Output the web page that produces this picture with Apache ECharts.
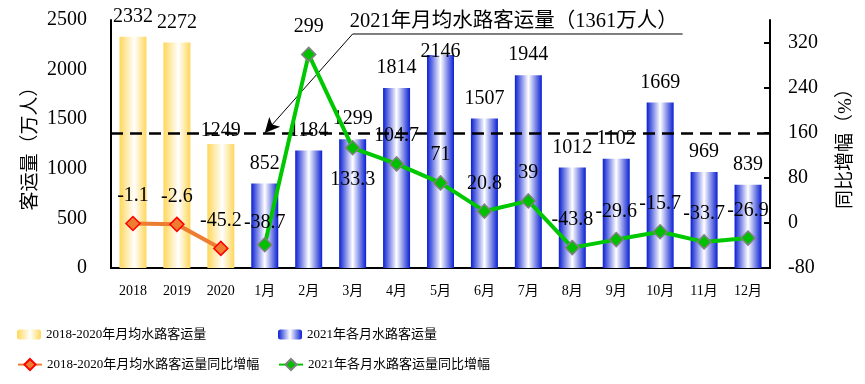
<!DOCTYPE html>
<html>
<head>
<meta charset="utf-8">
<script src="https://cdn.jsdelivr.net/npm/echarts@6/dist/echarts.min.js"></script>
<style>html,body{margin:0;padding:0;background:#fff;}#c{width:865px;height:384px;}</style>
</head>
<body>
<div id="c"></div>
<script>
const categories = ['2018','2019','2020','1月','2月','3月','4月','5月','6月','7月','8月','9月','10月','11月','12月'];
const yearlyAvg = [2332, 2272, 1249];
const monthly2021 = [852, 1184, 1299, 1814, 2146, 1507, 1944, 1012, 1102, 1669, 969, 839];
const yearlyGrowth = [-1.1, -2.6, -45.2];
const monthlyGrowth = [-38.7, 299, 133.3, 104.7, 71, 20.8, 39, -43.8, -29.6, -15.7, -33.7, -26.9];
const avg2021 = 1361;
const calloutText = '2021年月均水路客运量（1361万人）';
const calloutAnchor = ['3月', 2359];
const seriesNames = ['2018-2020年月均水路客运量','2021年各月水路客运量','2018-2020年月均水路客运量同比增幅','2021年各月水路客运量同比增幅'];
const leftTicks = {min: 0, max: 2500, interval: 500};
const rightTicks = {min: -80, max: 360, interval: 80};

const FONT = "'Liberation Serif','Noto Sans CJK SC',serif";
const nY = yearlyAvg.length;
const pad = (arr, before, after) => Array(before).fill('-').concat(arr, Array(after).fill('-'));

const yellowGrad = new echarts.graphic.LinearGradient(0,0,1,0,[
  {offset:0,color:'#FFD75A'},{offset:0.55,color:'#FFFFFF'},{offset:1,color:'#FFD75A'}]);
const blueGrad = new echarts.graphic.LinearGradient(0,0,1,0,[
  {offset:0,color:'#0A1FD2'},{offset:0.5,color:'#FFFFFF'},{offset:1,color:'#0A1FD2'}]);

const barLabelDist = {'2020': 3, '5月': -7};
const yearlyBarData = pad(yearlyAvg, 0, monthly2021.length).map((v,i)=>{
  const d = barLabelDist[categories[i]];
  return d === undefined ? v : {value:v, label:{distance:d}};
});
const monthBarData = pad(monthly2021, nY, 0).map((v,i)=>{
  const d = barLabelDist[categories[i]];
  return d === undefined ? v : {value:v, label:{distance:d}};
});
const monthLineData = pad(monthlyGrowth, nY, 0).map((v,i)=>{
  if (categories[i] === '3月') return {value:v, label:{position:'bottom', distance:14}};
  if (categories[i] === '1月') return {value:v, label:{distance:4}};
  return v;
});

const chart = echarts.init(document.getElementById('c'), null, {renderer:'canvas'});
const labelStyle = {fontFamily: FONT, fontSize: 20, color: '#000'};
const legendText = {fontFamily:FONT, fontSize:13, color:'#000'};

chart.setOption({
  animation: false,
  textStyle: {fontFamily: FONT},
  grid: {left: 111, right: 95, top: 20, bottom: 116},
  legend: [
    {data:[seriesNames[0]], left:17, top:328, padding:0, itemWidth:24, itemHeight:10, textStyle:legendText},
    {data:[seriesNames[1]], left:278, top:328, padding:0, itemWidth:24, itemHeight:10, textStyle:legendText},
    {data:[seriesNames[2]], left:17, top:358, padding:0, itemWidth:24, itemHeight:14, textStyle:legendText},
    {data:[seriesNames[3]], left:278, top:358, padding:0, itemWidth:24, itemHeight:14, textStyle:legendText}
  ],
  xAxis: {
    type:'category', data: categories,
    axisLine:{lineStyle:{color:'#000', width:2}},
    axisTick:{inside:true, length:5, interval:0, lineStyle:{color:'#000', width:2}},
    axisLabel:{interval:0, margin:16, fontFamily:FONT, fontSize:14, color:'#000'}
  },
  yAxis: [
    {type:'value', min:leftTicks.min, max:leftTicks.max, interval:leftTicks.interval,
     name:'客运量（万人）', nameLocation:'middle', nameGap:70, nameRotate:90, nameMoveOverlap:false,
     nameTextStyle:{fontFamily:FONT, fontSize:19, color:'#000'},
     axisLine:{show:true, lineStyle:{color:'#000', width:2}},
     axisTick:{show:false}, splitLine:{show:false},
     axisLabel:{margin:24, fontFamily:FONT, fontSize:20, color:'#000', formatter: v => String(v)}},
    {type:'value', min:rightTicks.min, max:rightTicks.max, interval:rightTicks.interval, position:'right',
     name:'同比增幅（%）', nameLocation:'middle', nameGap:67, nameRotate:90, nameMoveOverlap:false,
     nameTextStyle:{fontFamily:FONT, fontSize:19, color:'#000'},
     axisLine:{show:true, lineStyle:{color:'#000', width:2}},
     axisTick:{show:true, inside:true, length:6, lineStyle:{color:'#000', width:2}},
     splitLine:{show:false},
     axisLabel:{margin:18, showMaxLabel:false, fontFamily:FONT, fontSize:20, color:'#000', formatter: v => String(v)}}
  ],
  series: [
    {name:seriesNames[0], type:'bar', data:yearlyBarData, barWidth:27, barGap:'-100%',
     itemStyle:{color:yellowGrad},
     label:{show:true, position:'top', distance:10, ...labelStyle}, z:2},
    {name:seriesNames[1], type:'bar', data:monthBarData, barWidth:27, barGap:'-100%',
     itemStyle:{color:blueGrad},
     label:{show:true, position:'top', distance:10, ...labelStyle}, z:2,
     markLine:{silent:true, symbol:['none','none'], label:{show:false}, animation:false,
       data:[
         {yAxis:avg2021, lineStyle:{type:[12,7], width:2.5, color:'#000'}},
         [{coord:calloutAnchor, symbol:'none', lineStyle:{type:'solid', width:1, color:'#000'}},
          {coord:['1月', avg2021], symbol:'arrow', symbolSize:[11,15]}]
       ]}},
    {name:seriesNames[2], type:'line', yAxisIndex:1, data:pad(yearlyGrowth,0,monthlyGrowth.length),
     symbol:'diamond', symbolSize:14,
     lineStyle:{color:'#ED7D31', width:4},
     itemStyle:{color:'#ED7D31', borderColor:'#FF0000', borderWidth:1.5},
     label:{show:true, position:'top', distance:10, ...labelStyle}, z:5},
    {name:seriesNames[3], type:'line', yAxisIndex:1, data:monthLineData,
     symbol:'diamond', symbolSize:14,
     lineStyle:{color:'#00C800', width:4},
     itemStyle:{color:'#00C000', borderColor:'#808080', borderWidth:1.5},
     label:{show:true, position:'top', distance:10, ...labelStyle}, z:5}
  ]
});

const p = chart.convertToPixel({xAxisIndex:0, yAxisIndex:0}, calloutAnchor);
chart.setOption({
  graphic: [
    {type:'line', shape:{x1:p[0], y1:p[1], x2:p[0]+330, y2:p[1]}, style:{stroke:'#000', lineWidth:1}, silent:true},
    {type:'text', left:p[0]-3, top:p[1]-23, style:{text:calloutText, font:"20.5px " + FONT, fill:'#000'}, silent:true}
  ]
});
</script>
</body>
</html>
